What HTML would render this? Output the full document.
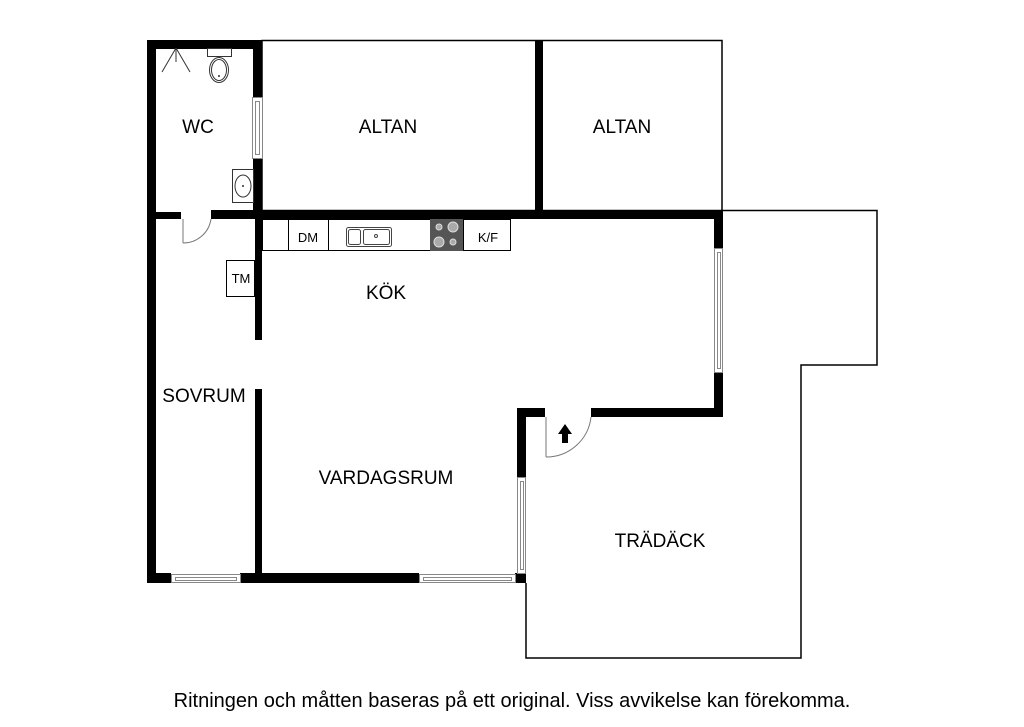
<!DOCTYPE html>
<html><head><meta charset="utf-8"><style>
html,body{margin:0;padding:0;background:#fff}
svg{display:block}
text{font-family:"Liberation Sans",sans-serif;fill:#000}
</style></head><body>
<svg width="1024" height="727" viewBox="0 0 1024 727">
<g fill="none" stroke="#000" stroke-width="1.5">
<rect x="262" y="40.5" width="460" height="170"/>
<polyline points="722,210.5 877,210.5 877,365 801,365 801,658 526,658 526,583"/>
</g>
<g fill="#000">
<rect x="147" y="40" width="115" height="9"/>
<rect x="147" y="40" width="9" height="543"/>
<rect x="253" y="40" width="9" height="57"/>
<rect x="253" y="158" width="9" height="61"/>
<rect x="535" y="40" width="8" height="172"/>
<rect x="147" y="212" width="34" height="7"/>
<rect x="211" y="210" width="512" height="9"/>
<rect x="255" y="219" width="7" height="121"/>
<rect x="255" y="389" width="7" height="189"/>
<rect x="147" y="573" width="24" height="10"/>
<rect x="240" y="573" width="179" height="10"/>
<rect x="515" y="573" width="11" height="10"/>
<rect x="714" y="210" width="9" height="38"/>
<rect x="714" y="372" width="9" height="45"/>
<rect x="591" y="408" width="132" height="9"/>
<rect x="517" y="408" width="28" height="9"/>
<rect x="517" y="408" width="9" height="69"/>
</g>
<g fill="#fff" stroke="#888" stroke-width="1">
<rect x="252.5" y="97.5" width="10" height="61"/>
<rect x="255.5" y="101.5" width="4" height="53"/>
<rect x="171.5" y="574.5" width="69" height="8"/>
<rect x="175.5" y="577.5" width="61" height="3"/>
<rect x="419.5" y="574.5" width="96" height="8"/>
<rect x="423.5" y="577.5" width="88" height="3"/>
<rect x="714.5" y="248.5" width="8" height="124"/>
<rect x="717.5" y="252.5" width="3" height="116"/>
<rect x="517.5" y="477.5" width="8" height="96"/>
<rect x="520.5" y="481.5" width="3" height="88"/>
</g>
<g fill="none" stroke="#777" stroke-width="1">
<line x1="183" y1="219" x2="183" y2="243"/>
<path d="M183,243 A28,28 0 0 0 211,219"/>
<line x1="546" y1="417" x2="546" y2="457"/>
<path d="M546,457 A45,45 0 0 0 591,417"/>
</g>
<polygon points="565,424 572,434 568,434 568,443 562,443 562,434 558,434" fill="#000"/>
<g fill="none" stroke="#333" stroke-width="1">
<line x1="176" y1="48" x2="162" y2="72"/>
<line x1="176" y1="48" x2="190" y2="72"/>
<line x1="176" y1="48" x2="176" y2="62"/>
<rect x="207.5" y="48.5" width="24" height="8" fill="#fff"/>
<ellipse cx="219" cy="70" rx="9.5" ry="12.5"/>
<ellipse cx="219" cy="70" rx="7.5" ry="10.5"/>
<rect x="232.5" y="169.5" width="21" height="33"/>
<ellipse cx="243" cy="186" rx="8" ry="11"/>
</g>
<circle cx="219" cy="76" r="1" fill="#333"/>
<circle cx="243" cy="186" r="1" fill="#333"/>
<g fill="none" stroke="#000" stroke-width="1">
<rect x="262.5" y="219.5" width="248" height="31"/>
<line x1="288.5" y1="219" x2="288.5" y2="251"/>
<line x1="328.5" y1="219" x2="328.5" y2="251"/>
<line x1="463.5" y1="219" x2="463.5" y2="251"/>
<rect x="226.5" y="260.5" width="28" height="36"/>
</g>
<rect x="430" y="219" width="33" height="32" fill="#555"/>
<g fill="#aaa" stroke="#ddd" stroke-width="1">
<circle cx="439" cy="227" r="3"/><circle cx="453" cy="227" r="5"/>
<circle cx="439" cy="242" r="5"/><circle cx="453" cy="242" r="3"/>
</g>
<g fill="none" stroke="#444" stroke-width="1">
<rect x="346.5" y="227.5" width="45" height="19" rx="2"/>
<rect x="348.5" y="229.5" width="12" height="15" rx="2"/>
<rect x="363.5" y="229.5" width="26" height="15" rx="2"/>
</g>
<circle cx="376" cy="236" r="1.5" fill="none" stroke="#444"/>
<text x="198" y="133" font-size="19" text-anchor="middle">WC</text>
<text x="388" y="133" font-size="19" text-anchor="middle">ALTAN</text>
<text x="622" y="133" font-size="19" text-anchor="middle">ALTAN</text>
<text x="308" y="242" font-size="13" text-anchor="middle">DM</text>
<text x="488" y="242" font-size="13" text-anchor="middle">K/F</text>
<text x="241" y="283" font-size="13" text-anchor="middle">TM</text>
<text x="386" y="299" font-size="19" text-anchor="middle">KÖK</text>
<text x="204" y="402" font-size="19" text-anchor="middle">SOVRUM</text>
<text x="386" y="484" font-size="19" text-anchor="middle">VARDAGSRUM</text>
<text x="660" y="547" font-size="19" text-anchor="middle">TRÄDÄCK</text>
<text x="512" y="707" font-size="20" text-anchor="middle">Ritningen och måtten baseras på ett original. Viss avvikelse kan förekomma.</text>
</svg>
</body></html>
